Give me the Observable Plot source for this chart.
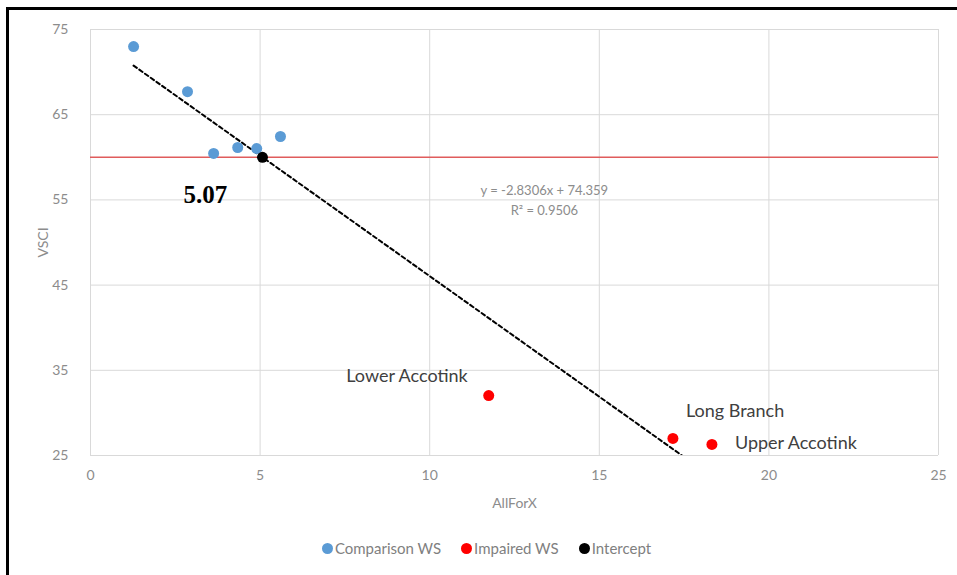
<!DOCTYPE html>
<html>
<head>
<meta charset="utf-8">
<script src="https://cdn.jsdelivr.net/npm/d3@7"></script>
<script src="https://cdn.jsdelivr.net/npm/@observablehq/plot@0.6"></script>
<style>
  html, body { margin: 0; padding: 0; background: #fff; }
  #wrap { position: relative; width: 957px; height: 575px; overflow: hidden; background: #fff; }
  #frame { position: absolute; left: 6px; top: 7px; right: -10px; bottom: -10px; border-left: 3px solid #000; border-top: 3px solid #000; pointer-events: none; }
  #legend { position: absolute; left: 8px; width: 957px; top: 539px; display: flex; justify-content: center; gap: 20px; font-family: Lato, "Open Sans", sans-serif; font-size: 15px; color: #7f7f7f; }
  #legend span.item { display: inline-flex; align-items: center; }
  #legend span.sw { width: 11px; height: 11px; border-radius: 50%; display: inline-block; margin-right: 2px; }
</style>
</head>
<body>
<div id="wrap">
  <div id="chart"></div>
  <div id="legend"></div>
  <div id="frame"></div>
</div>
<script>
// ---- data ----
const comparisonX = [1.27, 2.86, 3.63, 4.34, 4.90, 5.60];
const comparisonY = [73.0, 67.7, 60.45, 61.15, 61.03, 62.44];
const impairedNames = ["Lower Accotink", "Long Branch", "Upper Accotink"];
const impairedX = [11.74, 17.17, 18.32];
const impairedY = [32.04, 27.0, 26.3];
const interceptX = [5.07];
const interceptY = [60];
const thresholdY = [60];
const trendSlope = -2.8306;
const trendIntercept = 74.359;
const rSquared = 0.9506;
const xTicks = [0, 5, 10, 15, 20, 25];
const yTicks = [25, 35, 45, 55, 65, 75];
const seriesNames = ["Comparison WS", "Impaired WS", "Intercept"];
const seriesColors = ["#5b9bd5", "#ff0000", "#000000"];

// ---- tables ----
const comparison = comparisonX.map((x, i) => ({x, y: comparisonY[i]}));
const impaired = impairedX.map((x, i) => ({x, y: impairedY[i], name: impairedNames[i]}));
const intercept = interceptX.map((x, i) => ({x, y: interceptY[i]}));
const allX = comparisonX.concat(impairedX);
const trendX = [d3.min(allX), d3.max(allX)];
const trend = trendX.map(x => ({x, y: trendSlope * x + trendIntercept}));

const font = "Lato, 'Open Sans', sans-serif";
const gray = "#8c8c8c";

const chart = Plot.plot({
  width: 957,
  height: 530,
  marginLeft: 90,
  marginRight: 19,
  marginTop: 29,
  marginBottom: 75,
  style: {fontFamily: font, background: "transparent", overflow: "visible"},
  x: {domain: [0, 25]},
  y: {domain: [25, 75]},
  marks: [
    Plot.gridX(xTicks, {stroke: "#d9d9d9", strokeOpacity: 1}),
    Plot.gridY(yTicks, {stroke: "#d9d9d9", strokeOpacity: 1}),
    Plot.axisX(xTicks, {tickSize: 0, tickPadding: 15, fontSize: 14, fill: gray, label: "AllForX", labelAnchor: "center", labelOffset: 52, labelArrow: "none"}),
    Plot.axisY(yTicks, {tickSize: 0, tickPadding: 22, fontSize: 14, fill: gray, label: "VSCI", labelAnchor: "center", labelOffset: 52, labelArrow: "none"}),
    Plot.ruleY(thresholdY, {stroke: "#e05c5c", strokeWidth: 1.5}),
    Plot.line(trend, {x: "x", y: "y", stroke: "#000", strokeWidth: 2, strokeDasharray: "4 3", clip: true}),
    Plot.dot(comparison, {x: "x", y: "y", r: 5.5, fill: seriesColors[0]}),
    Plot.dot(impaired, {x: "x", y: "y", r: 5.5, fill: seriesColors[1]}),
    Plot.dot(intercept, {x: "x", y: "y", r: 5.5, fill: seriesColors[2]}),
    Plot.text(impaired.filter(d => d.name === "Lower Accotink"), {x: "x", y: "y", text: "name", textAnchor: "end", dx: -21, dy: -19, fontSize: 18, fill: "#404040"}),
    Plot.text(impaired.filter(d => d.name === "Long Branch"), {x: "x", y: "y", text: "name", textAnchor: "start", dx: 13, dy: -27, fontSize: 18, fill: "#404040"}),
    Plot.text(impaired.filter(d => d.name === "Upper Accotink"), {x: "x", y: "y", text: "name", textAnchor: "start", dx: 23, dy: -1, fontSize: 18, fill: "#404040"}),
    Plot.text(intercept, {x: "x", y: "y", text: d => d.x.toFixed(2), dx: -57, dy: 38, fontSize: 25, fontWeight: "bold", fontFamily: "'Liberation Serif', serif", fill: "#000"}),
    Plot.text([`y = ${trendSlope}x + ${trendIntercept}`], {x: 13.38, y: 56.1, text: d => d, fontSize: 13, fill: gray}),
    Plot.text([`R² = ${rSquared}`], {x: 13.38, y: 53.75, text: d => d, fontSize: 13, fill: gray})
  ]
});
document.getElementById("chart").appendChild(chart);

const legend = document.getElementById("legend");
seriesNames.forEach((name, i) => {
  const item = document.createElement("span");
  item.className = "item";
  const sw = document.createElement("span");
  sw.className = "sw";
  sw.style.background = seriesColors[i];
  item.appendChild(sw);
  item.appendChild(document.createTextNode(name));
  legend.appendChild(item);
});
</script>
</body>
</html>
